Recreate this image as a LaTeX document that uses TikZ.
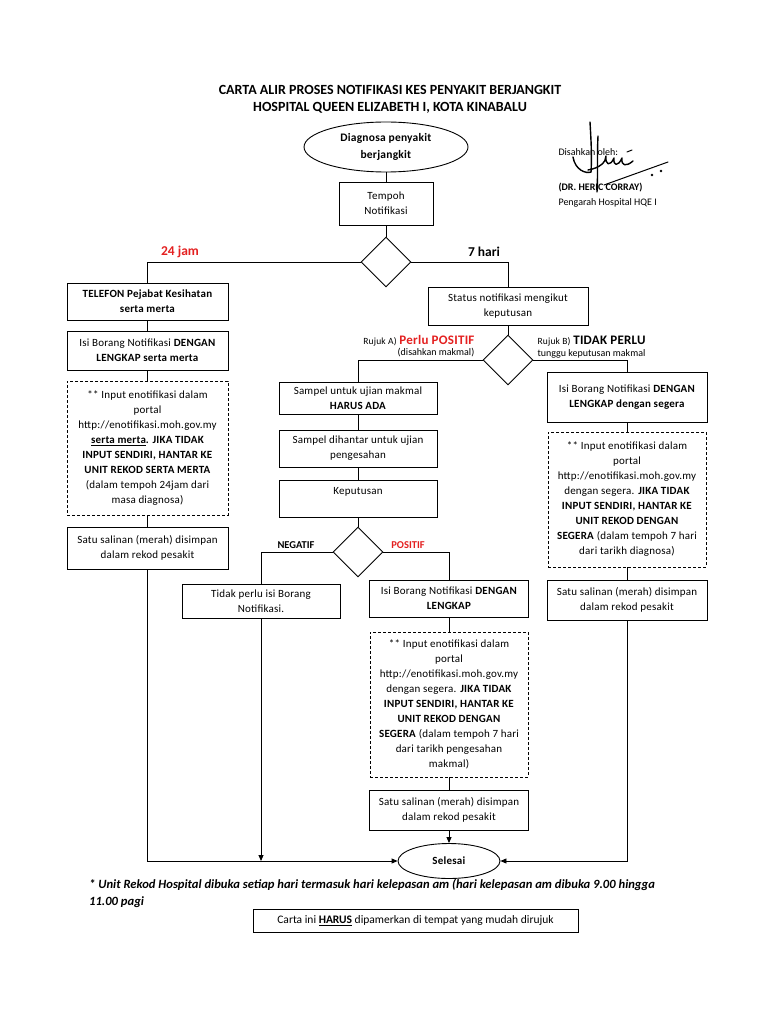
\documentclass[tikz,border=0pt]{standalone}
\usepackage{fontspec}
\setmainfont{Carlito}
\usetikzlibrary{shapes.geometric,arrows.meta}
\definecolor{redlbl}{RGB}{228,32,32}
\begin{document}
\begin{tikzpicture}[x=1pt,y=-1pt,
 every node/.style={font=\fontsize{11}{15}\selectfont\addfontfeature{LetterSpace=2}},
 bx/.style={draw, line width=0.9pt, align=center, inner sep=2pt},
 dbx/.style={bx, dash pattern=on 3pt off 2pt},
 dia/.style={draw, line width=0.9pt, diamond, minimum width=50pt, minimum height=50pt, inner sep=0pt},
 ell/.style={draw, line width=0.9pt, ellipse, align=center, inner sep=0pt},
 ln/.style={line width=0.9pt},
 arr/.style={ln, -{Triangle[length=6pt,width=5pt]}},
 lbl/.style={font=\fontsize{13.5}{15}\selectfont\bfseries},
 sm/.style={font=\fontsize{10}{12}\selectfont},
 sig/.style={line width=1.4pt, line cap=round, line join=round}
]
\fill[white] (0,0) rectangle (768,1024);
\useasboundingbox (0,0) rectangle (768,1024);

% title
\node[font=\fontsize{14}{17}\selectfont\bfseries, align=center] (title) at (390,99)
 {CARTA ALIR PROSES NOTIFIKASI KES PENYAKIT BERJANGKIT\\HOSPITAL QUEEN ELIZABETH I, KOTA KINABALU};

% signature
\node[sm, anchor=west] (dis) at (555,152) {Disahkan oleh:};
\node[sm, anchor=west, font=\fontsize{10}{12}\selectfont\bfseries] (dr) at (555,188) {(DR. HERIC CORRAY)};
\node[sm, anchor=west] (peng) at (555,203) {Pengarah Hospital HQE I};
\draw[sig] (590,122) .. controls (591,140) and (592,155) .. (591,172);
\draw[sig] (573,157) .. controls (575,170) and (586,174) .. (591,172);
\draw[sig] (598,136) .. controls (597,155) and (598,175) .. (597,192);
\draw[sig] (588,170) .. controls (600,168) and (606,162) .. (606,156)
  .. controls (605,165) and (610,167) .. (614,158)
  .. controls (613,166) and (618,167) .. (622,158)
  .. controls (621,166) and (626,167) .. (633,161);
\draw[sig, line width=1pt] (604,185) -- (668,162);
\draw[sig, line width=1pt] (627,152) -- (632,150);
\fill (652,175) circle (1.3pt);
\fill (661,171) circle (1.3pt);

% top
\node[ell, minimum width=164pt, minimum height=50pt, font=\fontsize{11.5}{17}\selectfont\addfontfeature{LetterSpace=2}] (diag) at (386,147) {\textbf{Diagnosa penyakit}\\\textbf{berjangkit}};
\node[bx, minimum width=94pt, minimum height=43pt] (tempoh) at (386,203.5) {Tempoh\\Notifikasi};
\node[dia] (d1) at (386,262) {};
\node[lbl, text=redlbl] (l24) at (180,252) {24 jam};
\node[lbl] (l7) at (484,252) {7 hari};

% left column
\node[bx, minimum width=161pt, minimum height=37pt] (telefon) at (147.5,301.5) {\textbf{TELEFON Pejabat Kesihatan}\\\textbf{serta merta}};
\node[bx, minimum width=161pt, minimum height=39pt] (isi1) at (147.5,350.5) {Isi Borang Notifikasi \textbf{DENGAN}\\\textbf{LENGKAP serta merta}};
\node[dbx, minimum width=161pt, minimum height=134pt] (inp1) at (147.5,448) {** Input enotifikasi dalam\\portal\\http://enotifikasi.moh.gov.my\\\textbf{\underline{serta merta}. JIKA TIDAK}\\\textbf{INPUT SENDIRI, HANTAR KE}\\\textbf{UNIT REKOD SERTA MERTA}\\(dalam tempoh 24jam dari\\masa diagnosa)};
\node[bx, minimum width=161pt, minimum height=42pt] (satu1) at (147.5,548) {Satu salinan (merah) disimpan\\dalam rekod pesakit};

% right branch top
\node[bx, minimum width=160pt, minimum height=38pt] (status) at (508,306) {Status notifikasi mengikut\\keputusan};
\node[dia] (d2) at (508,360) {};
\node[anchor=base east] (ra) at (478,344) {{\fontsize{9.5}{12}\selectfont Rujuk A)} {\fontsize{13}{14}\selectfont\bfseries\color{redlbl}Perlu POSITIF}};
\node[sm] (rad) at (436,353) {(disahkan makmal)};
\node[anchor=base west] (rb) at (534,344) {{\fontsize{9.5}{12}\selectfont Rujuk B)} {\fontsize{13}{14}\selectfont\bfseries TIDAK PERLU}};
\node[sm, anchor=west] (rbt) at (534,354) {tunggu keputusan makmal};

% middle column
\node[bx, minimum width=158pt, minimum height=32pt] (sampel) at (358,398) {Sampel untuk ujian makmal\\\textbf{HARUS ADA}};
\node[bx, minimum width=158pt, minimum height=37pt] (hantar) at (358,448.5) {Sampel dihantar untuk ujian\\pengesahan};
\node[bx, minimum width=158pt, minimum height=37pt] (kep) at (358,498.5) {Keputusan\\~};
\node[dia] (d3) at (358,552) {};
\node[font=\fontsize{10.5}{12}\selectfont\bfseries] (neg) at (296,545) {NEGATIF};
\node[font=\fontsize{10.5}{12}\selectfont\bfseries, text=redlbl] (pos) at (408,545) {POSITIF};
\node[bx, minimum width=158pt, minimum height=34pt] (tidak) at (261,601) {Tidak perlu isi Borang\\Notifikasi.};
\node[bx, minimum width=159pt, minimum height=37pt] (isi2) at (449,598.5) {Isi Borang Notifikasi \textbf{DENGAN}\\\textbf{LENGKAP}};
\node[dbx, minimum width=158pt, minimum height=145pt] (inp2) at (449,704.5) {** Input enotifikasi dalam\\portal\\http://enotifikasi.moh.gov.my\\dengan segera. \textbf{JIKA TIDAK}\\\textbf{INPUT SENDIRI, HANTAR KE}\\\textbf{UNIT REKOD DENGAN}\\\textbf{SEGERA} (dalam tempoh 7 hari\\dari tarikh pengesahan\\makmal)};
\node[bx, minimum width=159pt, minimum height=40pt] (satu2) at (449,810) {Satu salinan (merah) disimpan\\dalam rekod pesakit};
\node[ell, minimum width=102pt, minimum height=35pt] (sel) at (449,861) {\textbf{Selesai}};

% right column
\node[bx, minimum width=160pt, minimum height=50pt] (isi3) at (627,397) {Isi Borang Notifikasi \textbf{DENGAN}\\\textbf{LENGKAP dengan segera}};
\node[dbx, minimum width=158pt, minimum height=135pt] (inp3) at (627,499.5) {** Input enotifikasi dalam\\portal\\http://enotifikasi.moh.gov.my\\dengan segera. \textbf{JIKA TIDAK}\\\textbf{INPUT SENDIRI, HANTAR KE}\\\textbf{UNIT REKOD DENGAN}\\\textbf{SEGERA} (dalam tempoh 7 hari\\dari tarikh diagnosa)};
\node[bx, minimum width=160pt, minimum height=40pt] (satu3) at (627,600) {Satu salinan (merah) disimpan\\dalam rekod pesakit};

% connectors
\draw[ln] (diag.south) -- (tempoh.north);
\draw[ln] (tempoh.south) -- (d1.north);
\draw[ln] (d1.west) -| (telefon.north);
\draw[ln] (d1.east) -| (status.north);
\draw[ln] (telefon.south) -- (isi1.north);
\draw[ln] (isi1.south) -- (inp1.north);
\draw[ln] (inp1.south) -- (satu1.north);
\draw[arr] (satu1.south) |- (sel.west);
\draw[ln] (status.south) -- (d2.north);
\draw[ln] (d2.west) -| (sampel.north);
\draw[ln] (d2.east) -| (isi3.north);
\draw[ln] (sampel.south) -- (hantar.north);
\draw[ln] (hantar.south) -- (kep.north);
\draw[ln] (kep.south) -- (d3.north);
\draw[ln] (d3.west) -| (tidak.north);
\draw[ln] (d3.east) -| (isi2.north);
\draw[arr] (tidak.south) -- (tidak.south |- sel.west);
\draw[ln] (isi2.south) -- (inp2.north);
\draw[ln] (inp2.south) -- (satu2.north);
\draw[arr] (satu2.south) -- (sel.north);
\draw[ln] (isi3.south) -- (inp3.north);
\draw[ln] (inp3.south) -- (satu3.north);
\draw[arr] (satu3.south) |- (sel.east);

% footer
\node[anchor=north west, align=left, inner sep=0pt, font=\fontsize{12.6}{17}\selectfont\bfseries\itshape] (foot) at (89,879)
 {* Unit Rekod Hospital dibuka setiap hari termasuk hari kelepasan am (hari kelepasan am dibuka 9.00 hingga\\11.00 pagi};
\node[bx, line width=0.8pt, minimum width=325pt, minimum height=23pt, font=\fontsize{11.5}{15}\selectfont] (carta) at (415.5,920.5)
 {Carta ini \textbf{\underline{HARUS}} dipamerkan di tempat yang mudah dirujuk};
\end{tikzpicture}
\end{document}
